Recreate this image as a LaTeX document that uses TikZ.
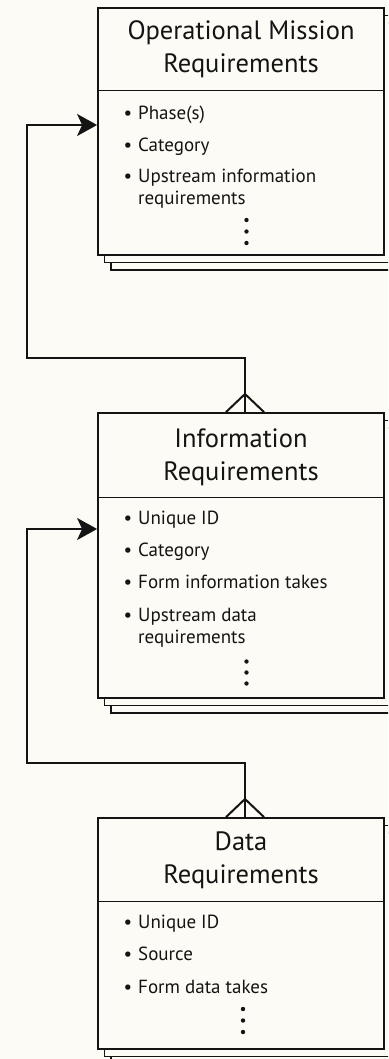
\documentclass[tikz,border=0pt]{standalone}
\usepackage{fontspec}
\setmainfont{PT Sans}
\usetikzlibrary{arrows.meta,calc}
\definecolor{bgcol}{RGB}{252,251,245}
\definecolor{ink}{RGB}{20,20,20}
\begin{document}
\begin{tikzpicture}[x=1pt,y=-1pt,
  boxshape/.style={draw=ink,line width=1.8pt,fill=bgcol,minimum width=286pt,inner sep=0pt},
  ttl/.style={anchor=base,inner sep=0pt,font=\fontsize{26.5}{30}\selectfont,text=ink},
  itm/.style={anchor=base west,inner sep=0pt,font=\fontsize{19}{22}\selectfont,text=ink},
  conn/.style={draw=ink,line width=2pt},
  crow/.style={draw=ink,line width=2pt},
  sep/.style={draw=ink,line width=1pt},
  dotc/.style={fill=ink,circle,inner sep=0pt,minimum size=4.4pt}]
\useasboundingbox (0,0) rectangle (388,1059);
\clip (0,0) rectangle (388,1059);
\fill[bgcol] (0,0) rectangle (388,1059);
\newcommand{\bul}{\makebox[0pt][r]{•\hspace{6pt}}}
% ---------- Box 1
\node[boxshape,minimum height=247pt] (b1c3) at (254,146.5) {};
\node[boxshape,minimum height=247pt] (b1c2) at (247.5,139) {};
\node[boxshape,minimum height=247pt] (b1) at (241,131.5) {};
\draw[sep] (b1.west |- 0,91) -- (b1.east |- 0,91);
\node[ttl] (b1t1) at (241,40) {Operational Mission};
\node[ttl] (b1t2) at (241,73) {Requirements};
\node[itm] (b1i1) at (138,120) {\bul Phase(s)};
\node[itm] (b1i2) at (138,152) {\bul Category};
\node[itm] (b1i3) at (138,183) {\bul Upstream information};
\node[itm] (b1i3b) at (138,205) {requirements};
\node[dotc] (b1d1) at (246.5,220) {};
\node[dotc] (b1d2) at (246.5,231.5) {};
\node[dotc] (b1d3) at (246.5,243) {};
% ---------- Box 2
\node[boxshape,minimum height=285pt] (b2c3) at (254,570.5) {};
\node[boxshape,minimum height=285pt] (b2c2) at (247.5,563) {};
\node[boxshape,minimum height=285pt] (b2) at (241,555.5) {};
\draw[sep] (b2.west |- 0,497) -- (b2.east |- 0,497);
\node[ttl] (b2t1) at (241,447) {Information};
\node[ttl] (b2t2) at (241,480) {Requirements};
\node[itm] (b2i1) at (138,524) {\bul Unique ID};
\node[itm] (b2i2) at (138,556) {\bul Category};
\node[itm] (b2i3) at (138,588) {\bul Form information takes};
\node[itm] (b2i4) at (138,621) {\bul Upstream data};
\node[itm] (b2i4b) at (138,643) {requirements};
\node[dotc] (b2d1) at (246.5,661.5) {};
\node[dotc] (b2d2) at (246.5,672.5) {};
\node[dotc] (b2d3) at (246.5,683.5) {};
% ---------- Box 3
\node[boxshape,minimum height=231pt] (b3c3) at (254,948.5) {};
\node[boxshape,minimum height=231pt] (b3c2) at (247.5,941) {};
\node[boxshape,minimum height=231pt] (b3) at (241,933.5) {};
\draw[sep] (b3.west |- 0,901) -- (b3.east |- 0,901);
\node[ttl] (b3t1) at (241,850) {Data};
\node[ttl] (b3t2) at (241,883) {Requirements};
\node[itm] (b3i1) at (138,928) {\bul Unique ID};
\node[itm] (b3i2) at (138,960) {\bul Source};
\node[itm] (b3i3) at (138,993) {\bul Form data takes};
\node[dotc] (b3d1) at (243,1009) {};
\node[dotc] (b3d2) at (243,1020.5) {};
\node[dotc] (b3d3) at (243,1032) {};
% ---------- Connector 1 (Information -> Operational Mission)
\coordinate (f1) at (245,394);
\coordinate (j1) at (27,358);
\coordinate (e1) at (27,125);
\draw[crow] (b2.north -| f1) -- (f1);
\draw[crow] (f1) -- ($(b2.north -| f1)+(-19,0)$);
\draw[crow] (f1) -- ($(b2.north -| f1)+(19,0)$);
\draw[conn,-{Stealth[length=20pt,width=22pt,inset=5pt]}] (f1) |- (j1) -- (e1) -- (b1.west |- e1);
% ---------- Connector 2 (Data -> Information)
\coordinate (f2) at (245,799);
\coordinate (j2) at (27,763);
\coordinate (e2) at (27,529);
\draw[crow] (b3.north -| f2) -- (f2);
\draw[crow] (f2) -- ($(b3.north -| f2)+(-19,0)$);
\draw[crow] (f2) -- ($(b3.north -| f2)+(19,0)$);
\draw[conn,-{Stealth[length=20pt,width=22pt,inset=5pt]}] (f2) |- (j2) -- (e2) -- (b2.west |- e2);
\end{tikzpicture}
\end{document}
